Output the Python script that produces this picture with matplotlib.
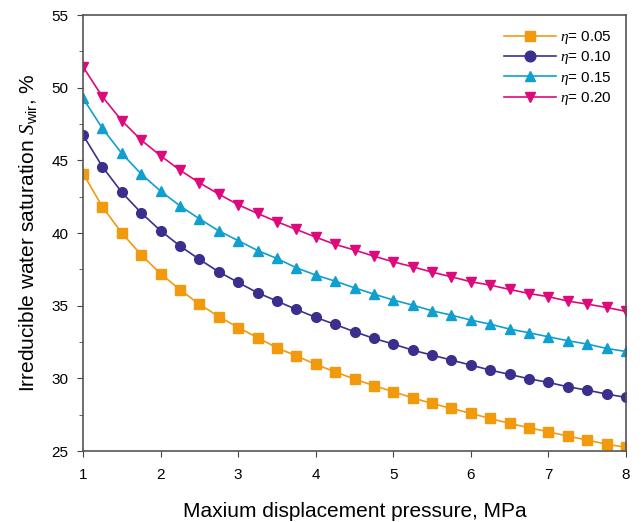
import numpy as np
import matplotlib
matplotlib.use('Agg')
import matplotlib.pyplot as plt
from matplotlib.ticker import MultipleLocator

plt.rcParams['font.family'] = ['Liberation Sans', 'DejaVu Sans']
plt.rcParams['mathtext.fontset'] = 'custom'
plt.rcParams['mathtext.rm'] = 'Liberation Sans'
plt.rcParams['mathtext.it'] = 'Liberation Serif:italic'

# Veriler
pressure = np.arange(1, 8.01, 0.25)

eta_005 = [44.1, 41.8, 40.0, 38.5, 37.2, 36.1, 35.1, 34.25, 33.5, 32.8, 32.1, 31.55, 30.96,
           30.45, 29.95, 29.5, 29.08, 28.66, 28.27, 27.93, 27.59, 27.24, 26.9, 26.6, 26.32,
           26.03, 25.75, 25.47, 25.25]
eta_010 = [46.74, 44.56, 42.8, 41.39, 40.16, 39.11, 38.19, 37.33, 36.6, 35.89, 35.32, 34.74,
           34.2, 33.71, 33.21, 32.75, 32.36, 31.94, 31.6, 31.26, 30.91, 30.57, 30.27, 29.97,
           29.72, 29.42, 29.19, 28.92, 28.69]
eta_015 = [49.27, 47.2, 45.48, 44.06, 42.89, 41.87, 40.98, 40.15, 39.48, 38.8, 38.25, 37.61,
           37.11, 36.69, 36.23, 35.8, 35.39, 35.04, 34.65, 34.35, 34.01, 33.73, 33.39, 33.14,
           32.86, 32.59, 32.36, 32.06, 31.85]
eta_020 = [51.44, 49.38, 47.73, 46.4, 45.32, 44.33, 43.46, 42.68, 41.95, 41.35, 40.78, 40.25,
           39.72, 39.22, 38.83, 38.41, 38.02, 37.68, 37.31, 36.99, 36.65, 36.42, 36.12, 35.84,
           35.62, 35.32, 35.11, 34.88, 34.61]

labels = [r'$\eta$= 0.05', r'$\eta$= 0.10', r'$\eta$= 0.15', r'$\eta$= 0.20']
series = [eta_005, eta_010, eta_015, eta_020]
colors = ['#F29A0E', '#3B2F8E', '#0FA0CF', '#DE0A7C']
markers = ['s', 'o', '^', 'v']

fig = plt.figure(figsize=(6.44, 5.22), dpi=100)
ax = fig.add_axes([0.129, 0.136, 0.843, 0.835])

for vals, lab, c, m in zip(series, labels, colors, markers):
    ax.plot(pressure, vals, color=c, marker=m, markersize=7, linewidth=1.2, label=lab)

ax.set_xlim(1, 8)
ax.set_ylim(25, 55)
ax.xaxis.set_major_locator(MultipleLocator(1))
ax.yaxis.set_major_locator(MultipleLocator(5))
ax.yaxis.set_minor_locator(MultipleLocator(2.5))
ax.tick_params(axis='both', which='both', direction='out', labelsize=11, color='#444444')
ax.tick_params(which='major', length=4.5, pad=6)
ax.tick_params(which='minor', length=3)
ax.tick_params(axis='x', pad=8)
for s in ax.spines.values():
    s.set_color('#555555')
    s.set_linewidth(1.2)

ax.set_xlabel('Maxium displacement pressure, MPa', fontsize=15, labelpad=14)
ax.set_ylabel(r'Irreducible water saturation $S_{\rm wir}$, %', fontsize=15, labelpad=9)

leg = ax.legend(loc='upper right', frameon=False, fontsize=11, handlelength=3.4,
                labelspacing=0.22, handletextpad=0.3, borderaxespad=0.5, markerscale=1.1)

fig.savefig('out.png', dpi=100)
